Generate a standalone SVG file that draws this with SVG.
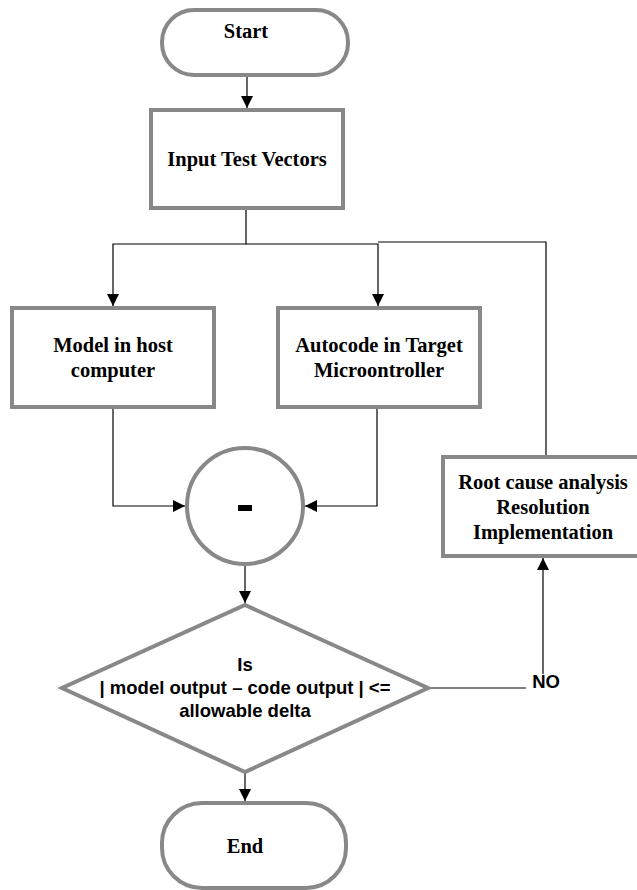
<svg xmlns="http://www.w3.org/2000/svg" width="637" height="890" viewBox="0 0 637 890">
  <defs>
    <marker id="arrow" markerWidth="12" markerHeight="12" refX="12" refY="6" orient="auto" markerUnits="userSpaceOnUse">
      <path d="M0,0 L12,6 L0,12 z" fill="#000"/>
    </marker>
    <style>
      .shape { fill: #fff; stroke: #888; stroke-width: 4; }
      .wire { fill: none; stroke: #000; stroke-width: 1.2; }
      .serif { font-family: "Liberation Serif", "Times New Roman", serif; font-weight: bold; font-size: 20.5px; fill: #000; text-anchor: middle; }
      .sans { font-family: "Liberation Sans", Arial, sans-serif; font-weight: bold; font-size: 18.5px; fill: #000; text-anchor: middle; }
    </style>
  </defs>
  <rect width="637" height="890" fill="#fff"/>

  <g id="connectors">
    <path class="wire" d="M247,75 V108" marker-end="url(#arrow)"/>
    <path class="wire" d="M246,208 V244 H113 V306" marker-end="url(#arrow)"/>
    <path class="wire" d="M246,244 H378 V306" marker-end="url(#arrow)"/>
    <path class="wire" d="M546,457 V242 H378"/>
    <path class="wire" d="M113,407 V506 H185" marker-end="url(#arrow)"/>
    <path class="wire" d="M377,407 V506 H305" marker-end="url(#arrow)"/>
    <path class="wire" d="M245,565 V603" marker-end="url(#arrow)"/>
    <path class="wire" d="M428,688 H526"/>
    <path class="wire" d="M543,674 V558" marker-end="url(#arrow)"/>
    <path class="wire" d="M245,772 V801" marker-end="url(#arrow)"/>
    <text class="sans" x="546" y="688">NO</text>
  </g>

  <g id="start">
    <rect class="shape" x="162" y="10" width="186" height="65" rx="32" ry="32"/>
    <text class="serif" x="246" y="38">Start</text>
  </g>

  <g id="input-test-vectors">
    <rect class="shape" x="151" y="110" width="192" height="98"/>
    <text class="serif" x="247" y="166">Input Test Vectors</text>
  </g>

  <g id="model-host">
    <rect class="shape" x="12" y="308" width="202" height="99"/>
    <text class="serif" x="113" y="352">Model in host</text>
    <text class="serif" x="113" y="377">computer</text>
  </g>

  <g id="autocode-target">
    <rect class="shape" x="278" y="308" width="202" height="99"/>
    <text class="serif" x="379" y="352">Autocode in Target</text>
    <text class="serif" x="379" y="377">Microontroller</text>
  </g>

  <g id="difference">
    <circle class="shape" cx="245" cy="506" r="58"/>
    <rect x="238" y="505" width="14" height="6" fill="#000"/>
  </g>

  <g id="root-cause">
    <rect class="shape" x="443" y="457" width="200" height="99"/>
    <text class="serif" x="543" y="489">Root cause analysis</text>
    <text class="serif" x="543" y="514">Resolution</text>
    <text class="serif" x="543" y="539">Implementation</text>
  </g>

  <g id="tolerance-check">
    <polygon class="shape" points="245,605 428,688 245,772 62,688"/>
    <text class="sans" x="245" y="671">Is</text>
    <text class="sans" x="245" y="694">| model output – code output | &lt;=</text>
    <text class="sans" x="245" y="717">allowable delta</text>
  </g>

  <g id="end">
    <rect class="shape" x="162" y="803" width="184" height="85" rx="40" ry="40"/>
    <text class="serif" x="245" y="853">End</text>
  </g>
</svg>
